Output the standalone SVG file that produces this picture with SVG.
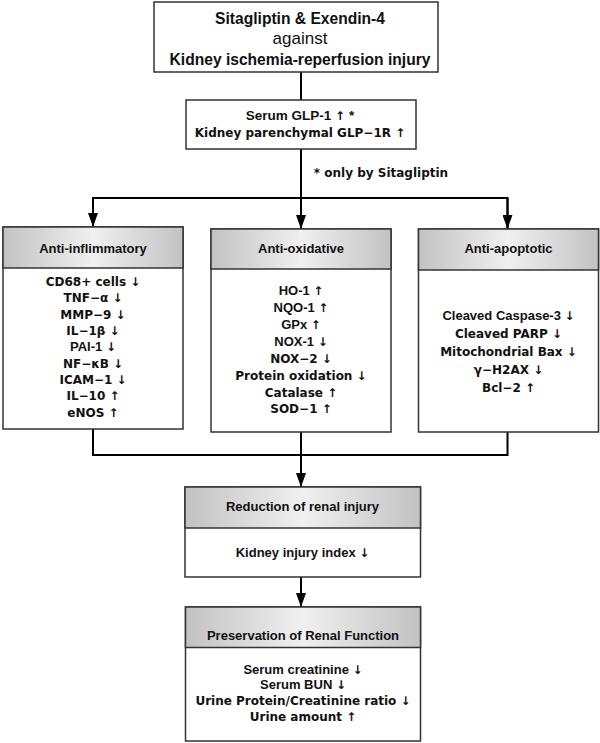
<svg xmlns="http://www.w3.org/2000/svg" width="600" height="743" viewBox="0 0 600 743">
<style>
.box{fill:#fff;stroke:#333;stroke-width:1.5}
.hdr{fill:url(#hg);stroke:#333;stroke-width:1.5}
.h{font-family:"Liberation Sans",Arial,sans-serif;font-weight:bold;font-size:13px;fill:#111;text-anchor:middle}
.t{font-family:"Liberation Sans",Arial,sans-serif;font-weight:bold;font-size:15.6px;fill:#111;text-anchor:middle}
.tn{font-family:"Liberation Sans",Arial,sans-serif;font-size:17px;fill:#111;text-anchor:middle}
.l{font-family:"DejaVu Sans","Liberation Sans",sans-serif;font-weight:bold;font-size:12px;fill:#111;text-anchor:middle}
.a{font-family:"DejaVu Sans",sans-serif;font-weight:bold;font-size:12px}
.c{fill:none;stroke:#000;stroke-width:2}
</style>
<defs>
<linearGradient id="hg" x1="0" y1="0" x2="1" y2="0">
<stop offset="0" stop-color="#c2c2c2"/>
<stop offset="0.5" stop-color="#f0f0f0"/>
<stop offset="1" stop-color="#c2c2c2"/>
</linearGradient>
<marker id="ah" viewBox="0 0 14 10" refX="14" refY="5" markerWidth="14" markerHeight="10" markerUnits="userSpaceOnUse" orient="auto">
<path d="M0,0 L14,5 L0,10 z" fill="#000"/>
</marker>
</defs>

<g id="connectors">
<line class="c" x1="301" y1="72" x2="301" y2="100"/>
<line class="c" x1="301" y1="149" x2="301" y2="229" marker-end="url(#ah)"/>
<polyline class="c" points="93,227 93,198 507.5,198 507.5,229"/>
<line class="c" x1="93" y1="198" x2="93" y2="227" marker-end="url(#ah)"/>
<line class="c" x1="507.5" y1="198" x2="507.5" y2="229" marker-end="url(#ah)"/>
<polyline class="c" points="93,429 93,455 507.5,455 507.5,432"/>
<line class="c" x1="301" y1="432" x2="301" y2="487" marker-end="url(#ah)"/>
<line class="c" x1="301" y1="577" x2="301" y2="607" marker-end="url(#ah)"/>
</g>

<g id="title">
<rect class="box" x="154" y="2" width="284" height="70"/>
<text class="t" x="300" y="24">Sitagliptin &amp; Exendin-4</text>
<text class="tn" x="300" y="44">against</text>
<text class="t" x="300" y="65">Kidney ischemia-reperfusion injury</text>
</g>

<g id="glp">
<rect class="box" x="186" y="100" width="230" height="49"/>
<text class="h" x="300" y="120" style="font-size:13.5px">Serum GLP-1 <tspan class="a">↑</tspan> *</text>
<text class="l" x="300" y="137">Kidney parenchymal GLP−1R ↑</text>
</g>

<g id="note">
<text class="l" x="381" y="177">* only by Sitagliptin</text>
</g>

<g id="anti-inflammatory">
<rect class="box" x="3" y="227" width="180" height="202"/>
<rect class="hdr" x="3" y="227" width="180" height="41"/>
<text class="h" x="93" y="253">Anti-inflimmatory</text>
<text class="l" x="93" y="286">CD68+ cells ↓</text>
<text class="l" x="93" y="302.3">TNF−α ↓</text>
<text class="l" x="93" y="318.7">MMP−9 ↓</text>
<text class="l" x="93" y="335">IL−1β ↓</text>
<text class="h" x="93" y="351.3">PAI-1 <tspan class="a">↓</tspan></text>
<text class="l" x="93" y="367.7">NF−κB ↓</text>
<text class="l" x="93" y="384">ICAM−1 ↓</text>
<text class="l" x="93" y="400.3">IL−10 ↑</text>
<text class="l" x="93" y="416.7">eNOS ↑</text>
</g>

<g id="anti-oxidative">
<rect class="box" x="211" y="229" width="180" height="203"/>
<rect class="hdr" x="211" y="229" width="180" height="40"/>
<text class="h" x="301" y="253">Anti-oxidative</text>
<text class="h" x="301" y="295">HO-1 <tspan class="a">↑</tspan></text>
<text class="h" x="301" y="312">NQO-1 <tspan class="a">↑</tspan></text>
<text class="h" x="301" y="329">GPx <tspan class="a">↑</tspan></text>
<text class="h" x="301" y="345.5">NOX-1 <tspan class="a">↓</tspan></text>
<text class="l" x="301" y="362.5">NOX−2 ↓</text>
<text class="l" x="301" y="379.5">Protein oxidation ↓</text>
<text class="l" x="301" y="396.5">Catalase ↑</text>
<text class="l" x="301" y="413">SOD−1 ↑</text>
</g>

<g id="anti-apoptotic">
<rect class="box" x="418.5" y="229" width="180" height="203"/>
<rect class="hdr" x="418.5" y="229" width="180" height="41"/>
<text class="h" x="508.5" y="253">Anti-apoptotic</text>
<text class="h" x="508.5" y="319.5">Cleaved Caspase-3 <tspan class="a">↓</tspan></text>
<text class="l" x="508.5" y="337.5">Cleaved PARP ↓</text>
<text class="l" x="508.5" y="355.5">Mitochondrial Bax ↓</text>
<text class="l" x="508.5" y="373.5">γ−H2AX ↓</text>
<text class="l" x="508.5" y="391.5">Bcl−2 ↑</text>
</g>

<g id="reduction">
<rect class="box" x="185" y="487" width="235.5" height="90"/>
<rect class="hdr" x="185" y="487" width="235.5" height="41"/>
<text class="h" x="302.5" y="511">Reduction of renal injury</text>
<text class="h" x="302.5" y="557">Kidney injury index <tspan class="a">↓</tspan></text>
</g>

<g id="preservation">
<rect class="box" x="185.5" y="607" width="235" height="134"/>
<rect class="hdr" x="185.5" y="607" width="235" height="40.5"/>
<text class="h" x="303" y="640">Preservation of Renal Function</text>
<text class="h" x="303" y="673.5">Serum creatinine <tspan class="a">↓</tspan></text>
<text class="h" x="303" y="689">Serum BUN <tspan class="a">↓</tspan></text>
<text class="l" x="303" y="705">Urine Protein/Creatinine ratio ↓</text>
<text class="l" x="303" y="720.5">Urine amount ↑</text>
</g>
</svg>
